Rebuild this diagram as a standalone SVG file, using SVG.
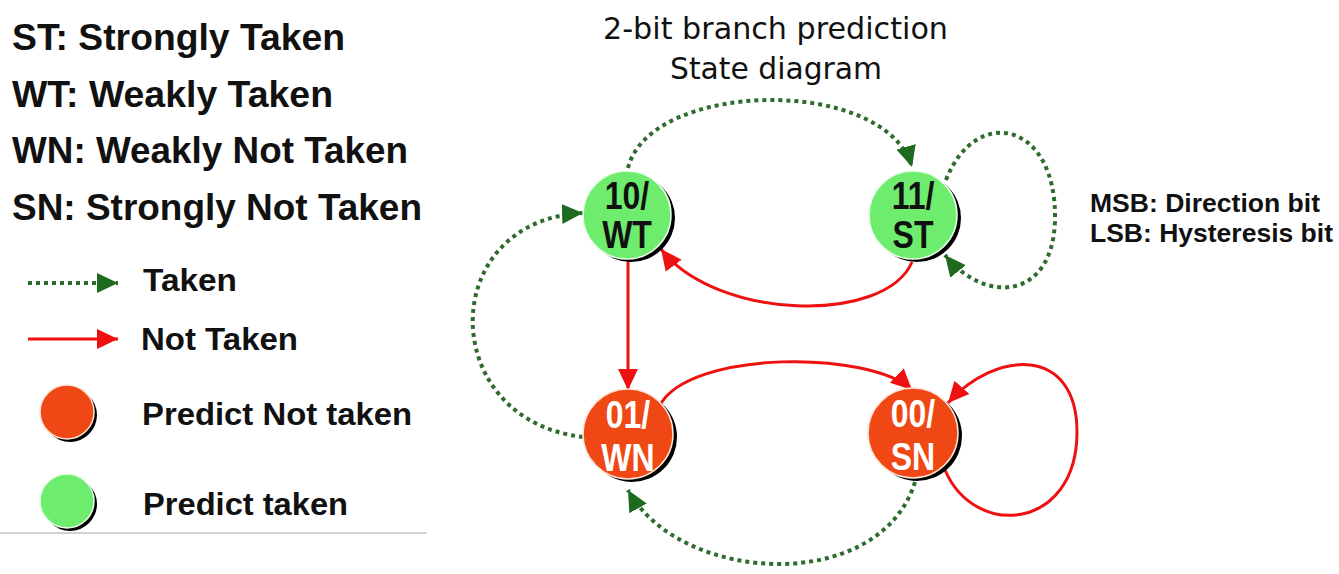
<svg xmlns="http://www.w3.org/2000/svg" width="1339" height="574" viewBox="0 0 1339 574">
<defs>
<style>
.lg{font-family:"Liberation Sans",Arial,sans-serif;font-weight:bold;fill:#111}
.title{font-family:"DejaVu Sans",Verdana,sans-serif;font-size:30px;fill:#111}
.nt{font-family:"Liberation Sans",Arial,sans-serif;font-weight:bold;font-size:32px;text-anchor:middle}
.tk{fill:none;stroke:#2e6b2e;stroke-width:4;stroke-dasharray:4 4}
.nk{fill:none;stroke:#ee1111;stroke-width:3}
.g{fill:#6dec6d;stroke:#eaffea;stroke-width:1.5}
.r{fill:#f04814;stroke:#ffe6d8;stroke-width:1.5}
.sh{fill:#000}
</style>
<marker id="ag" markerUnits="userSpaceOnUse" markerWidth="22" markerHeight="22" viewBox="0 0 22 22" refX="21" refY="11" orient="auto"><path d="M0,1 L21,11 L0,21 z" fill="#1e6a1e"/></marker>
<marker id="ar" markerUnits="userSpaceOnUse" markerWidth="22" markerHeight="22" viewBox="0 0 22 22" refX="21" refY="11" orient="auto"><path d="M0,1 L21,11 L0,21 z" fill="#ee1111"/></marker>
</defs>
<rect width="1339" height="574" fill="#fff"/>

<g id="legend">
<text class="lg" x="12" y="50" font-size="36" textLength="333" lengthAdjust="spacingAndGlyphs">ST: Strongly Taken</text>
<text class="lg" x="12" y="107" font-size="36" textLength="321" lengthAdjust="spacingAndGlyphs">WT: Weakly Taken</text>
<text class="lg" x="12" y="163" font-size="36" textLength="396" lengthAdjust="spacingAndGlyphs">WN: Weakly Not Taken</text>
<text class="lg" x="12" y="220" font-size="36" textLength="410" lengthAdjust="spacingAndGlyphs">SN: Strongly Not Taken</text>
<line class="tk" x1="28" y1="283" x2="118" y2="283" marker-end="url(#ag)"/>
<text class="lg" x="143" y="291" font-size="32" textLength="94" lengthAdjust="spacingAndGlyphs">Taken</text>
<line class="nk" x1="28" y1="339" x2="118" y2="339" marker-end="url(#ar)"/>
<text class="lg" x="141" y="350" font-size="32" textLength="157" lengthAdjust="spacingAndGlyphs">Not Taken</text>
<circle class="sh" cx="70" cy="415" r="27"/>
<circle class="r" cx="67" cy="412" r="27"/>
<text class="lg" x="142" y="425" font-size="32" textLength="270" lengthAdjust="spacingAndGlyphs">Predict Not taken</text>
<circle class="sh" cx="70" cy="504" r="27"/>
<circle class="g" cx="67" cy="501" r="27"/>
<text class="lg" x="143" y="515" font-size="32" textLength="205" lengthAdjust="spacingAndGlyphs">Predict taken</text>
<line x1="0" y1="533" x2="427" y2="533" stroke="#d0d0d0" stroke-width="2"/>
</g>

<g id="title">
<text class="title" x="603" y="39" textLength="345" lengthAdjust="spacingAndGlyphs">2-bit branch prediction</text>
<text class="title" x="670" y="79" textLength="212" lengthAdjust="spacingAndGlyphs">State diagram</text>
</g>

<g id="note">
<text class="lg" x="1090" y="212" font-size="25" textLength="230" lengthAdjust="spacingAndGlyphs">MSB: Direction bit</text>
<text class="lg" x="1090" y="242" font-size="25" textLength="243" lengthAdjust="spacingAndGlyphs">LSB: Hysteresis bit</text>
</g>

<g id="connectors">
<path class="tk" d="M628 168 C650 80 885 75 912 167" marker-end="url(#ag)"/>
<path class="tk" d="M946 180 C975 105 1057 120 1055 220 C1053 300 985 305 945 255" marker-end="url(#ag)"/>
<path class="nk" d="M912 262 C885 325 715 320 661 249" marker-end="url(#ar)"/>
<path class="nk" d="M628 261 L628 390" marker-end="url(#ar)"/>
<path class="nk" d="M660 405 C690 350 870 350 912 390" marker-end="url(#ar)"/>
<path class="nk" d="M945 470 C975 540 1077 530 1077 432 C1077 345 995 350 948 403" marker-end="url(#ar)"/>
<path class="tk" d="M915 482 C880 595 680 585 628 490" marker-end="url(#ag)"/>
<path class="tk" d="M583 437 C436 420 436 220 583 213" marker-end="url(#ag)"/>
</g>

<g id="node-WT">
<circle class="sh" cx="631" cy="218" r="44"/>
<circle class="g" cx="627" cy="215" r="44"/>
<g transform="translate(627 215) scale(1 1.2)"><text class="nt" fill="#111"><tspan x="0" y="-5">10/</tspan><tspan x="0" y="27.5">WT</tspan></text></g>
</g>
<g id="node-ST">
<circle class="sh" cx="917" cy="218" r="44"/>
<circle class="g" cx="913" cy="215" r="44"/>
<g transform="translate(913 215) scale(1 1.2)"><text class="nt" fill="#111"><tspan x="0" y="-5">11/</tspan><tspan x="0" y="27.5">ST</tspan></text></g>
</g>
<g id="node-WN">
<circle class="sh" cx="632" cy="437" r="45"/>
<circle class="r" cx="628" cy="434" r="45"/>
<g transform="translate(628 434) scale(1 1.2)"><text class="nt" fill="#fff"><tspan x="0" y="-5">01/</tspan><tspan x="0" y="31">WN</tspan></text></g>
</g>
<g id="node-SN">
<circle class="sh" cx="917" cy="436" r="45"/>
<circle class="r" cx="913" cy="433" r="45"/>
<g transform="translate(913 433) scale(1 1.2)"><text class="nt" fill="#fff"><tspan x="0" y="-5">00/</tspan><tspan x="0" y="31">SN</tspan></text></g>
</g>
</svg>
